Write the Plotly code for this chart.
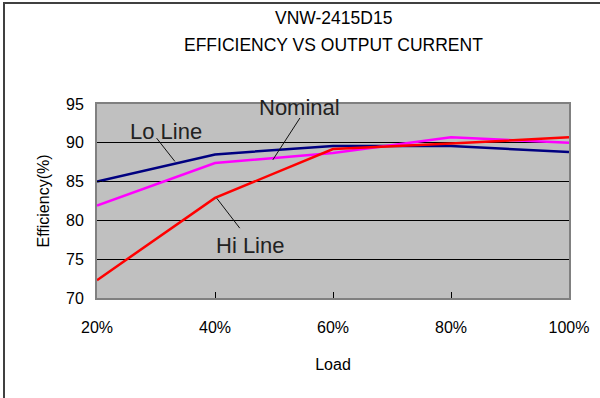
import plotly.graph_objects as go

load = [20, 40, 60, 80, 100]
x_ticks = [20, 40, 60, 80, 100]
x_tick_labels = ["20%", "40%", "60%", "80%", "100%"]
y_ticks = [70, 75, 80, 85, 90, 95]

lo_line = [85.0, 88.5, 89.6, 89.6, 88.8]
nominal = [81.9, 87.4, 88.7, 90.7, 90.0]
hi_line = [72.3, 82.9, 89.2, 89.9, 90.7]

series_names = ["Lo Line", "Nominal", "Hi Line"]
series_values = [lo_line, nominal, hi_line]
series_colors = ["#000080", "#FF00FF", "#FF0000"]

title_lines = ["VNW-2415D15", "EFFICIENCY VS OUTPUT CURRENT"]

# label text positions (x, y) and pointer lines (x0, y0, x1, y1), data units
label_pos = {"Lo Line": (31.7, 91.4), "Nominal": (54.4, 94.5), "Hi Line": (45.9, 76.8)}
pointer = {"Lo Line": (30.1, 90.6, 33.2, 87.6),
           "Nominal": (54.4, 93.2, 49.8, 87.8),
           "Hi Line": (40.3, 82.85, 44.2, 79.0)}

L, R, T, B = 97, 31, 104, 100
PW, PH = 600 - L - R, 398 - T - B

fig = go.Figure()
for name, vals, col in zip(series_names, series_values, series_colors):
    fig.add_trace(go.Scatter(x=load, y=vals, mode="lines", name=name,
                             line=dict(color=col, width=2.5)))

for name in series_names:
    lx, ly = label_pos[name]
    fig.add_annotation(x=lx, y=ly, text=name, showarrow=False,
                       font=dict(family="Liberation Sans, Arial", size=22, color="#222222"))
    x0, y0, x1, y1 = pointer[name]
    fig.add_shape(type="line", xref="x", yref="y", x0=x0, y0=y0, x1=x1, y1=y1,
                  line=dict(color="#111111", width=1))

# two-line title
for line, py in zip(title_lines, [18, 45]):
    fig.add_annotation(xref="paper", yref="paper", x=(333 - L) / PW, y=1 + (T - py) / PH,
                       xanchor="center", yanchor="middle", text=line, showarrow=False,
                       font=dict(family="Liberation Sans, Arial", size=17.5, color="black"))

fig.update_layout(
    width=600, height=398,
    margin=dict(l=L, r=R, t=T, b=B),
    paper_bgcolor="white", plot_bgcolor="#C0C0C0",
    showlegend=False,
    font=dict(family="Liberation Sans, Arial", size=16, color="black"),
)
fig.update_xaxes(range=[20, 100], tickvals=x_ticks, ticktext=x_tick_labels,
                 ticks="inside", ticklen=6, tickcolor="black",
                 ticklabelstandoff=14,
                 showgrid=False, zeroline=False,
                 showline=True, linecolor="#808080", linewidth=2, mirror=True,
                 title=dict(text="Load", standoff=24, font=dict(size=16)),
                 tickfont=dict(size=16))
fig.update_yaxes(range=[70, 95], tickvals=y_ticks,
                 ticks="inside", ticklen=5, tickcolor="black",
                 ticklabelstandoff=8,
                 showgrid=True, gridcolor="black", gridwidth=1, zeroline=False,
                 showline=True, linecolor="#808080", linewidth=2, mirror=True,
                 title=dict(text="Efficiency(%)", standoff=12, font=dict(size=16)),
                 tickfont=dict(size=16))

# page without default body margin; outer chart border drawn as a CSS frame
post = (
    "document.body.style.margin='0';"
    "var f=document.createElement('div');"
    "f.style.cssText='position:absolute;left:3px;top:2px;width:620px;height:420px;"
    "border-left:2px solid #404040;border-top:2px solid #404040;pointer-events:none;';"
    "document.body.appendChild(f);"
)
fig.write_html("out.html", config={"displayModeBar": False}, post_script=post)
